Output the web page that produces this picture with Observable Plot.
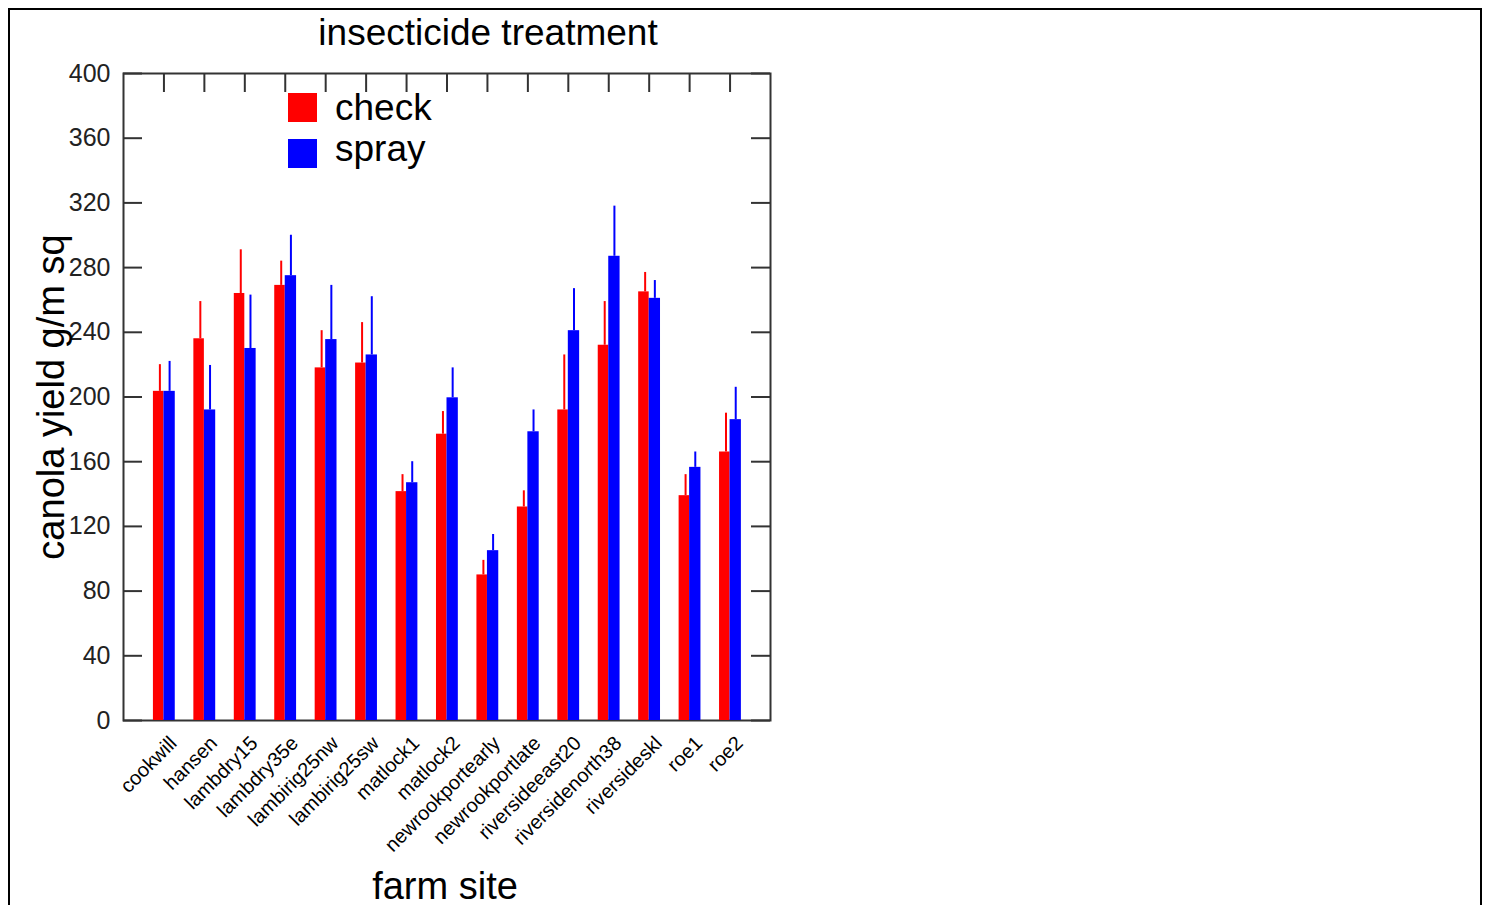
<!DOCTYPE html>
<html><head><meta charset="utf-8">
<script src="https://cdn.jsdelivr.net/npm/d3@7"></script>
<script src="https://cdn.jsdelivr.net/npm/@observablehq/plot@0.6"></script>
<style>
body{margin:0;background:#fff;overflow:hidden;width:1488px;height:905px;font-family:"Liberation Sans",Arial,sans-serif;}
#border{position:absolute;left:8px;top:8px;width:1474px;height:930px;border:2px solid #000;box-sizing:border-box;}
#chart{position:absolute;left:0;top:0;}
.sw{position:absolute;width:29px;height:29px;}
.lt{position:absolute;font-size:37px;line-height:1;color:#000;white-space:nowrap;}
</style></head><body>
<div id="border"></div>
<div id="chart"></div>
<div id="legend"></div>
<script>
const sites = ["cookwill","hansen","lambdry15","lambdry35e","lambirig25nw","lambirig25sw","matlock1","matlock2","newrookportearly","newrookportlate","riversideeast20","riversidenorth38","riversideskl","roe1","roe2"];
const checkYield = [203.5,236,264,269,218,221,141.5,177,90,132,192,232,265,139,166];
const checkUpper = [220,259,291,284,241,246,152,191,99,142,226,259,277,152,190];
const sprayYield = [203.5,192,230,275,235.5,226,147,199.5,105,178.5,241,287,261,156.5,186];
const sprayUpper = [222,219.5,263,300,269,262,160,218,115,192,267,318,272,166,206];
const yTicks = [0,40,80,120,160,200,240,280,320,360,400];
const series = ["check","spray"];
const colors = ["#ff0000","#0000ff"];
const title = "insecticide treatment";
const yLabel = "canola yield g/m sq";
const xLabel = "farm site";

const rows = [];
sites.forEach((s,i)=>{
  rows.push({site:s, idx:i+1, group:"check", value:checkYield[i], upper:checkUpper[i]});
  rows.push({site:s, idx:i+1, group:"spray", value:sprayYield[i], upper:sprayUpper[i]});
});
const barOffset = {check:[-0.26,0], spray:[0,0.28]};
const errOffset = {check:-0.1, spray:0.14};

const W = 800, H = 905, ML = 123, MR = W - 770, MT = 73, MB = H - 720;
const nX = sites.length + 1;
const tx = 19 / ((W - ML - MR) / nX);
const ty = 19 / ((H - MT - MB) / 400);
const font = "'Liberation Sans', Arial, sans-serif";

const chart = Plot.plot({
  width: W, height: H,
  marginLeft: ML, marginRight: MR, marginTop: MT, marginBottom: MB,
  x: {type: "linear", domain: [0, nX], axis: null},
  y: {domain: [0, 400], axis: null},
  color: {domain: series, range: colors},
  style: {fontFamily: font, background: "transparent", overflow: "visible"},
  marks: [
    Plot.frame({stroke: "#333", strokeWidth: 2}),
    Plot.rect(rows, {x1: d => d.idx + barOffset[d.group][0], x2: d => d.idx + barOffset[d.group][1], y1: d => 0, y2: "value", fill: "group"}),
    Plot.ruleX(rows, {x: d => d.idx + errOffset[d.group], y1: "value", y2: "upper", stroke: "group", strokeWidth: 2}),
    Plot.ruleY(yTicks, {y: d => d, x1: () => 0, x2: () => tx, stroke: "#333", strokeWidth: 2}),
    Plot.ruleY(yTicks, {y: d => d, x1: () => nX - tx, x2: () => nX, stroke: "#333", strokeWidth: 2}),
    Plot.ruleX(sites, {x: (d,i) => i + 1, y1: () => 400, y2: () => 400 - ty, stroke: "#333", strokeWidth: 2}),
    Plot.axisY({ticks: yTicks, tickSize: 0, tickPadding: 13, fontSize: 25, label: null, color: "#222"}),
    Plot.text(sites, {x: (d,i) => i + 1, frameAnchor: "bottom", text: d => d, rotate: -45, textAnchor: "end", dx: 14, dy: 24, fontSize: 20, fill: "#000"}),
    Plot.text([yLabel], {frameAnchor: "left", text: d => d, rotate: -90, textAnchor: "middle", lineAnchor: "middle", dx: -72, fontSize: 38, fill: "#000"}),
    Plot.text([xLabel], {frameAnchor: "bottom", text: d => d, textAnchor: "middle", lineAnchor: "middle", dx: -2, dy: 166, fontSize: 38, fill: "#000"}),
    Plot.text([title], {frameAnchor: "top", text: d => d, textAnchor: "middle", lineAnchor: "middle", dx: 41, dy: -40, fontSize: 37, fill: "#000"})
  ]
});
document.getElementById("chart").appendChild(chart);

const legend = document.getElementById("legend");
const legendTop = [93, 139];
const textTop = [88.7, 129.7];
series.forEach((s,i)=>{
  const sw = document.createElement("div");
  sw.className = "sw";
  sw.style.left = "288px"; sw.style.top = legendTop[i] + "px"; sw.style.background = colors[i];
  legend.appendChild(sw);
  const t = document.createElement("div");
  t.className = "lt";
  t.style.left = "335px"; t.style.top = textTop[i] + "px";
  t.textContent = s;
  legend.appendChild(t);
});
</script>
</body></html>
